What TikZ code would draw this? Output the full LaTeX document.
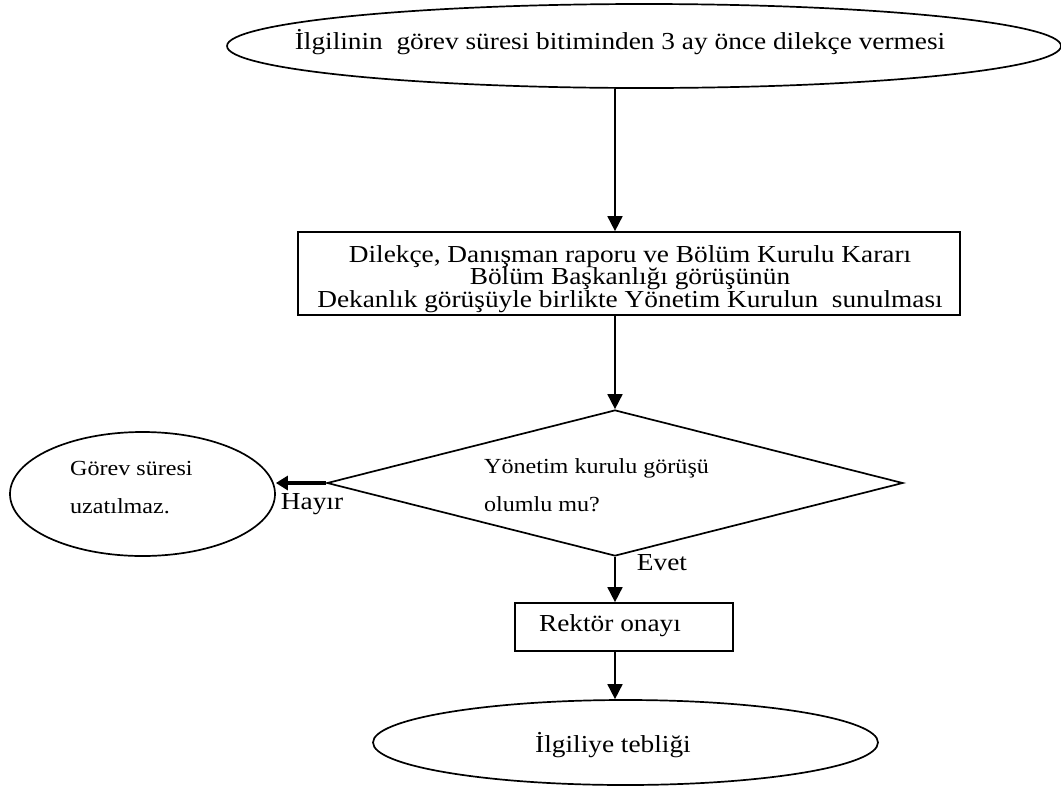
\documentclass[tikz,border=0pt]{standalone}
\usepackage{fontspec}
\setmainfont{Liberation Serif}[FakeStretch=1.12]
\usetikzlibrary{shapes.geometric,arrows.meta}
\newcommand\mybigfont{\fontsize{24.4}{22.5}\selectfont\lineskiplimit=-100pt\relax\lineskip=0pt\relax}
\begin{document}
\begin{tikzpicture}[x=1pt,y=-1pt,
  shapeline/.style={draw=black,line width=1.7pt},
  ell/.style={shapeline,ellipse,inner sep=0pt},
  boxnode/.style={shapeline,rectangle,inner sep=0pt},
  arr/.style={line width=1.7pt,-{Triangle[width=15pt,length=15pt]}},
  big/.style={font=\mybigfont,inner sep=0pt},
  small/.style={font=\fontsize{21.5}{38}\selectfont,inner sep=0pt}]
\useasboundingbox (0,0) rectangle (1061,788);
% shapes
\node[ell,minimum width=834pt,minimum height=84pt] (top) at (644,46) {};
\node[big] (toptxt) at (620,42) {İlgilinin\ \ görev süresi bitiminden 3 ay önce dilekçe vermesi};
\node[boxnode,minimum width=662pt,minimum height=83pt] (box) at (629,273.5) {};
\node[big,align=center] (boxtxt) at (630,279) {Dilekçe, Danışman raporu ve Bölüm Kurulu Kararı\\Bölüm Başkanlığı görüşünün\\Dekanlık görüşüyle birlikte Yönetim Kurulun\ \ sunulması};
\node[shapeline,diamond,inner sep=0pt,minimum width=576pt,minimum height=146pt] (dia) at (615,483) {};
\node[small,align=left,anchor=west] (diatxt) at (484,485) {Yönetim kurulu görüşü\\olumlu mu?};
\node[ell,minimum width=265pt,minimum height=124pt] (left) at (142.5,494) {};
\node[small,align=left,anchor=west] (lefttxt) at (70,488) {Görev süresi\\uzatılmaz.};
\node[boxnode,minimum width=218pt,minimum height=48pt] (rek) at (624,627) {};
\node[big] (rektxt) at (610,626) {Rektör onayı};
\node[ell,minimum width=505pt,minimum height=85pt] (bot) at (625.5,742.5) {};
\node[big] (bottxt) at (613,745) {İlgiliye tebliği};
% labels
\node[big] (hayir) at (312,504) {Hayır};
\node[big] (evet) at (662,563) {Evet};
% connectors
\draw[arr] (dia.north |- top.south) -- (dia.north |- box.north);
\draw[arr] (dia.north |- box.south) -- (dia.north);
\draw[arr] (dia.south) -- (dia.south |- rek.north);
\draw[arr] (dia.south |- rek.south) -- (dia.south |- bot.north);
\draw[line width=3.5pt,-{Triangle[width=14pt,length=12pt]}] (dia.west) -- (dia.west -| left.east);
\end{tikzpicture}
\end{document}
